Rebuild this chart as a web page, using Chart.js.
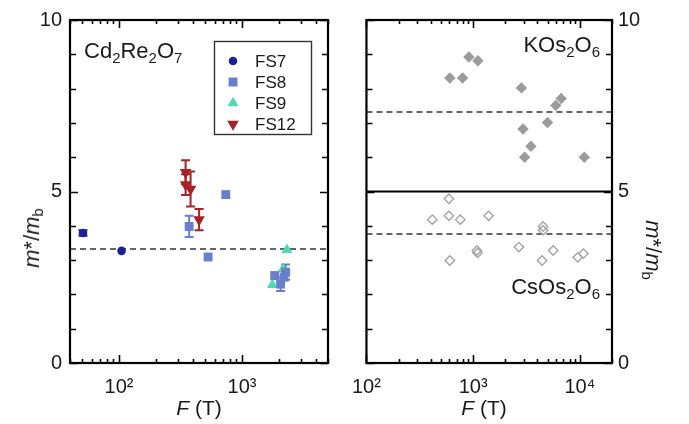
<!DOCTYPE html>
<html>
<head>
<meta charset="utf-8">
<script src="https://cdn.jsdelivr.net/npm/chart.js@4.4.0/dist/chart.umd.min.js"></script>
<style>
  body { margin: 0; background: #fff; }
  #wrap { position: relative; width: 689px; height: 424px; font-family: 'Liberation Sans', Arial, sans-serif; color: #1a1a1a; overflow: hidden; }
  canvas { position: absolute; top: 0; }
  .lbl { position: absolute; font-size: 22px; line-height: 22px; white-space: nowrap; }
  .lbl sub { font-size: 15px; vertical-align: -5px; line-height: 0; }
  .ttl { position: absolute; font-size: 21px; line-height: 22px; white-space: nowrap; transform: translate(-50%, 0); }
  .ylab { position: absolute; font-size: 22px; line-height: 22px; white-space: nowrap; }
  .ylab sub { font-size: 15px; vertical-align: -4px; line-height: 0; }
</style>
</head>
<body>
<div id="wrap">
  <canvas id="left" width="345" height="424" style="left:0"></canvas>
  <canvas id="right" width="349" height="424" style="left:340px"></canvas>

  <div class="lbl" style="left:84px; top:40px">Cd<sub>2</sub>Re<sub>2</sub>O<sub>7</sub></div>
  <div class="lbl" style="right:89px; top:34px">KOs<sub>2</sub>O<sub>6</sub></div>
  <div class="lbl" style="right:89px; top:276px">CsOs<sub>2</sub>O<sub>6</sub></div>

  <div class="ttl" style="left:199px; top:397px"><i>F</i> (T)</div>
  <div class="ttl" style="left:484px; top:397px"><i>F</i> (T)</div>

  <div class="ylab" style="left:32px; top:238px; transform: translate(-50%,-50%) rotate(-90deg)"><i>m</i>*/<i>m</i><sub>b</sub></div>
  <div class="ylab" style="left:653px; top:250px; transform: translate(-50%,-50%) rotate(90deg)"><i>m</i>*/<i>m</i><sub>b</sub></div>
</div>

<script>
// ---- Cd2Re2O7 (left panel) ----
const fs7F = [51, 105];
const fs7M = [3.79, 3.27];
const fs7Err = [0.08, 0];

const fs8F = [372, 530, 738, 1845, 2060, 2200, 2264];
const fs8M = [3.98, 3.09, 4.91, 2.55, 2.30, 2.50, 2.65];
const fs8Err = [0.31, 0, 0, 0, 0.2, 0, 0.22];

const fs9F = [1766, 2152, 2317];
const fs9M = [2.28, 2.74, 3.30];

const fs12F = [348, 348, 382, 448];
const fs12M = [5.56, 5.20, 5.07, 4.18];
const fs12Err = [0.35, 0.3, 0.51, 0.31];

const cdLevel = 3.32;

// ---- KOs2O6 / CsOs2O6 (right panel) ----
const kosF = [604, 796, 912, 1107, 2833, 2933, 3035, 3478, 4977, 5944, 6680, 11000];
const kosM = [8.31, 8.31, 8.92, 8.81, 8.02, 6.82, 6.0, 6.32, 7.01, 7.51, 7.71, 6.0];

const csosF = [414, 592, 592, 757, 1397, 604, 1083, 1097, 2680, 4518, 4518, 4424, 5620, 9550, 10790];
const csosM = [4.18, 4.79, 4.29, 4.18, 4.29, 2.99, 3.28, 3.21, 3.38, 3.98, 3.87, 2.99, 3.28, 3.08, 3.19];

const kosLevel = 7.32;
const csosLevel = 3.76;
const divider = 5;

// axis ranges and labels
const leftRange = [40, 5000];
const rightRange = [100, 20000];
const yRange = [0, 10];
const powLabels = { 100: '10\u00b2', 1000: '10\u00b3', 10000: '10\u2074' };

function pts(xs, ys) { return xs.map((x, i) => ({ x: x, y: ys[i] })); }

function logTicks(min, max) {
  const out = [];
  for (let d = Math.pow(10, Math.floor(Math.log10(min))); d <= max; d *= 10) {
    for (let k = 1; k <= 9; k++) {
      const v = k * d;
      if (v >= min && v <= max) out.push({ value: v, major: k === 1 });
    }
  }
  return out;
}

// inward ticks on all four sides + box
const framePlugin = {
  id: 'frame',
  afterDraw(chart) {
    const { ctx, chartArea: a, scales } = chart;
    ctx.save();
    ctx.strokeStyle = '#000';
    ctx.lineWidth = 1.6;
    ctx.beginPath();
    scales.x.ticks.forEach(t => {
      const px = Math.round(scales.x.getPixelForValue(t.value)) + 0.5;
      const len = t.major ? 8 : 4;
      ctx.moveTo(px, a.bottom); ctx.lineTo(px, a.bottom - len);
      ctx.moveTo(px, a.top); ctx.lineTo(px, a.top + len);
    });
    scales.y.ticks.forEach(t => {
      const py = Math.round(scales.y.getPixelForValue(t.value)) + 0.5;
      const len = t.value % 5 === 0 ? 8 : 6;
      ctx.moveTo(a.left, py); ctx.lineTo(a.left + len, py);
      ctx.moveTo(a.right, py); ctx.lineTo(a.right - len, py);
    });
    ctx.stroke();
    ctx.lineWidth = 2.2;
    ctx.strokeRect(a.left, a.top, a.width, a.height);
    ctx.restore();
  }
};

// vertical error bars from dataset.errors
const errorPlugin = {
  id: 'errbars',
  beforeDatasetsDraw(chart) {
    const { ctx, scales } = chart;
    chart.data.datasets.forEach((ds, i) => {
      if (!ds.errors) return;
      const meta = chart.getDatasetMeta(i);
      ctx.save();
      ctx.strokeStyle = ds.borderColor;
      ctx.lineWidth = 2;
      meta.data.forEach((el, j) => {
        const e = ds.errors[j];
        if (!e) return;
        const v = ds.data[j].y;
        const top = scales.y.getPixelForValue(v + e);
        const bot = scales.y.getPixelForValue(v - e);
        ctx.beginPath();
        ctx.moveTo(el.x, top); ctx.lineTo(el.x, bot);
        ctx.moveTo(el.x - 4.5, top); ctx.lineTo(el.x + 4.5, top);
        ctx.moveTo(el.x - 4.5, bot); ctx.lineTo(el.x + 4.5, bot);
        ctx.stroke();
      });
      ctx.restore();
    });
  }
};

// boxed legend inside the left plot
const legendPlugin = {
  id: 'boxLegend',
  afterDatasetsDraw(chart) {
    const { ctx } = chart;
    const items = chart.data.datasets.filter(ds => ds.label && ds.label.indexOf('FS') === 0);
    const x0 = 214.5, y0 = 41.5, w = 97, h = 93;
    ctx.save();
    ctx.fillStyle = '#fff';
    ctx.fillRect(x0, y0, w, h);
    ctx.strokeStyle = '#333';
    ctx.lineWidth = 1.4;
    ctx.strokeRect(x0, y0, w, h);
    items.forEach((ds, i) => {
      const cy = 61 + i * 21;
      ctx.fillStyle = ds.backgroundColor;
      ctx.strokeStyle = ds.borderColor;
      Chart.helpers.drawPoint(ctx, {
        pointStyle: ds.pointStyle, radius: ds.pointRadius,
        rotation: ds.pointRotation || 0, borderWidth: 0
      }, 233, cy);
      ctx.fillStyle = '#1a1a1a';
      ctx.font = '17px "Liberation Sans", Arial, sans-serif';
      ctx.textBaseline = 'middle';
      ctx.fillText(ds.label, 255, cy + 1);
    });
    ctx.restore();
  }
};

function xAxis(range) {
  return {
    type: 'logarithmic',
    min: range[0], max: range[1],
    afterBuildTicks: s => { s.ticks = logTicks(range[0], range[1]); },
    afterFit: s => { s.height = 61; },
    grid: { display: false, drawTicks: false },
    border: { display: false },
    ticks: {
      autoSkip: false, maxRotation: 0, padding: 12,
      color: '#1a1a1a',
      font: { family: '"Liberation Sans", Arial, sans-serif', size: 20 },
      callback: v => powLabels[v] || ''
    }
  };
}

function yAxis(pos, width, pad) {
  return {
    position: pos,
    min: yRange[0], max: yRange[1],
    afterFit: s => { s.width = width; },
    grid: { display: false, drawTicks: false },
    border: { display: false },
    ticks: {
      stepSize: 1, padding: pad, color: '#1a1a1a',
      font: { family: '"Liberation Sans", Arial, sans-serif', size: 20 },
      callback: v => (v % 5 === 0 ? v : '')
    }
  };
}

function levelLine(range, y, dash, color, width) {
  return {
    type: 'line', data: [{ x: range[0], y: y }, { x: range[1], y: y }],
    borderColor: color, borderWidth: width, borderDash: dash,
    pointRadius: 0, fill: false, order: 10
  };
}

const baseOpts = {
  responsive: false,
  animation: false,
  plugins: { legend: { display: false }, tooltip: { enabled: false } }
};

new Chart(document.getElementById('left').getContext('2d'), {
  type: 'scatter',
  data: {
    datasets: [
      levelLine(leftRange, cdLevel, [6, 4], '#333', 1.5),
      { label: 'FS7', data: pts(fs7F, fs7M), errors: fs7Err, pointStyle: 'circle', pointRadius: 4.3,
        backgroundColor: '#1e1e96', borderColor: '#1e1e96', pointBorderWidth: 0 },
      { label: 'FS8', data: pts(fs8F, fs8M), errors: fs8Err, pointStyle: 'rect', pointRadius: 6.3,
        backgroundColor: '#6a7fcc', borderColor: '#6a7fcc', pointBorderWidth: 0 },
      { label: 'FS9', data: pts(fs9F, fs9M), pointStyle: 'triangle', pointRadius: 6.3,
        backgroundColor: '#4fdab5', borderColor: '#4fdab5', pointBorderWidth: 0 },
      { label: 'FS12', data: pts(fs12F, fs12M), errors: fs12Err, pointStyle: 'triangle', pointRotation: 180,
        pointRadius: 6.7, backgroundColor: '#a52228', borderColor: '#a52228', pointBorderWidth: 0 }
    ]
  },
  options: Object.assign({}, baseOpts, {
    layout: { padding: { top: 20, right: 17, left: 0, bottom: 0 } },
    scales: { x: xAxis(leftRange), y: yAxis('left', 70, 8) }
  }),
  plugins: [errorPlugin, legendPlugin, framePlugin]
});

new Chart(document.getElementById('right').getContext('2d'), {
  type: 'scatter',
  data: {
    datasets: [
      levelLine(rightRange, kosLevel, [6, 4], '#333', 1.5),
      levelLine(rightRange, csosLevel, [6, 4], '#333', 1.5),
      levelLine(rightRange, divider, [], '#000', 2),
      { label: 'KOs2O6', data: pts(kosF, kosM), pointStyle: 'rectRot', pointRadius: 5.7,
        backgroundColor: '#9b9b9b', borderColor: '#9b9b9b', pointBorderWidth: 0 },
      { label: 'CsOs2O6', data: pts(csosF, csosM), pointStyle: 'rectRot', pointRadius: 4.7,
        backgroundColor: 'rgba(255,255,255,0)', borderColor: '#a3a3a3', pointBorderWidth: 1.4 }
    ]
  },
  options: Object.assign({}, baseOpts, {
    layout: { padding: { top: 20, right: 0, left: 16, bottom: 0 } },
    scales: { x: xAxis(rightRange), y: yAxis('right', 77, 6) }
  }),
  plugins: [framePlugin]
});
</script>
</body>
</html>
